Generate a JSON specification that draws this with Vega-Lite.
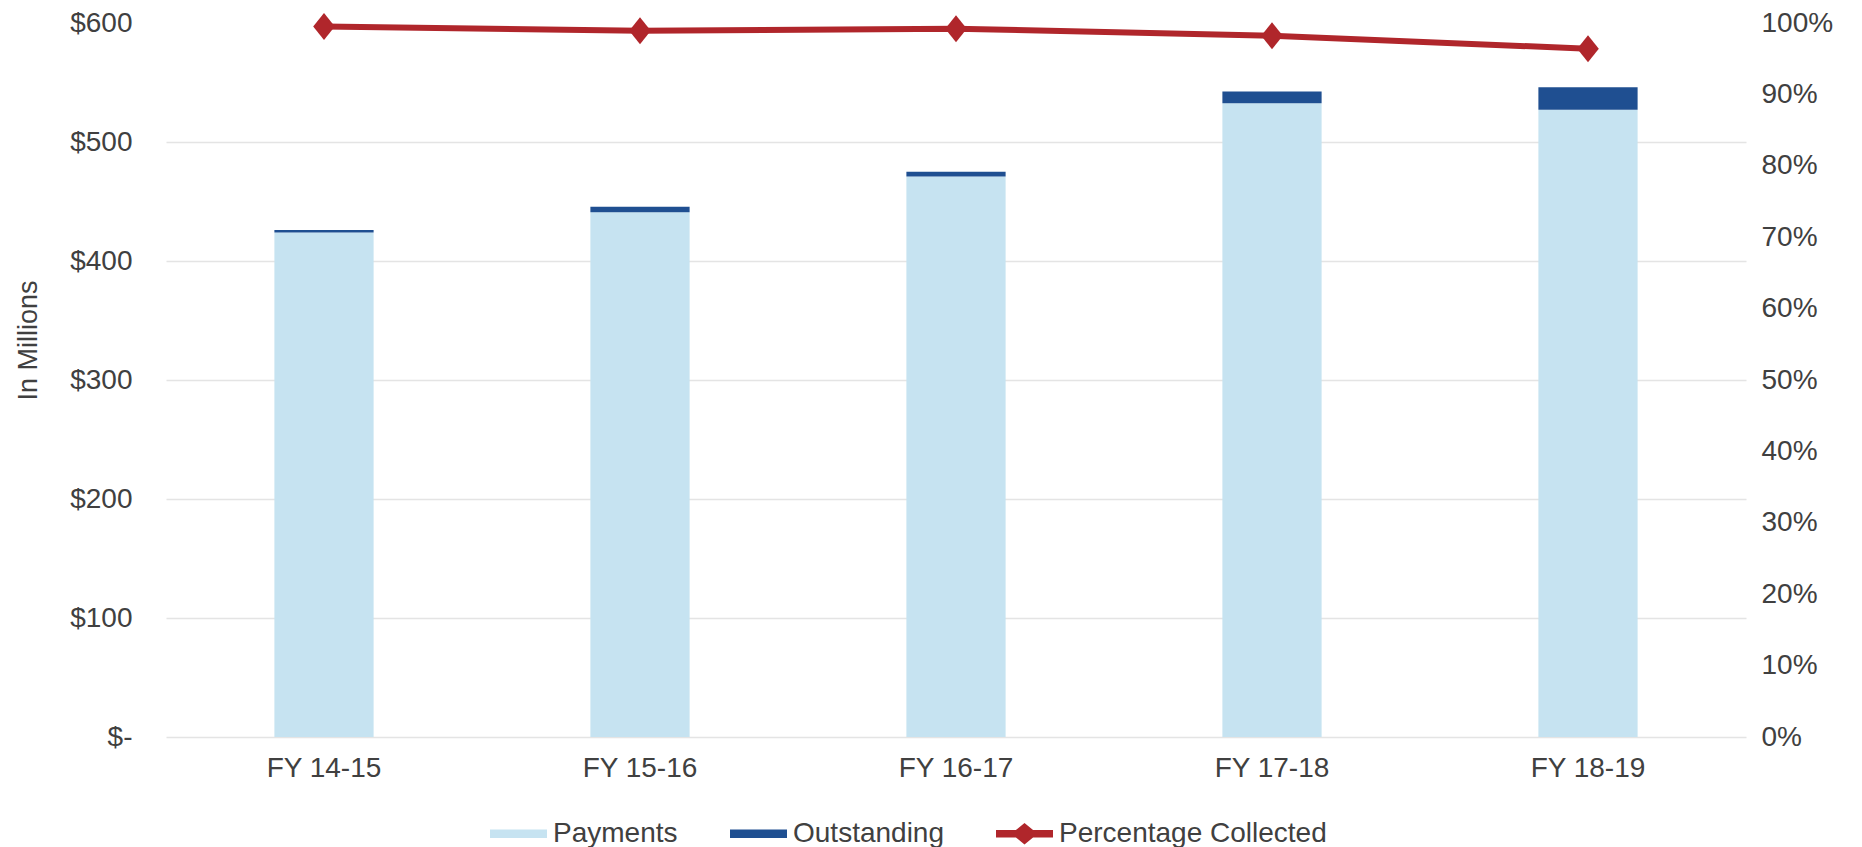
{
  "$schema": "https://vega.github.io/schema/vega-lite/v6.json",
  "width": 1580,
  "height": 714,
  "autosize": {"type": "none"},
  "padding": {"left": 166, "top": 23, "right": 116, "bottom": 110},
  "background": "white",
  "config": {
    "font": "Liberation Sans",
    "view": {"stroke": null},
    "axis": {
      "domain": false,
      "ticks": false,
      "labelFont": "Liberation Sans",
      "labelFontSize": 28,
      "labelColor": "#404040",
      "titleFont": "Liberation Sans",
      "titleColor": "#404040",
      "titleFontWeight": "normal",
      "gridColor": "#e4e4e4",
      "gridWidth": 1.5
    }
  },
  "datasets": {
    "bars": [
      {"year": "FY 14-15", "series": "Payments", "value": 424},
      {"year": "FY 14-15", "series": "Outstanding", "value": 2},
      {"year": "FY 15-16", "series": "Payments", "value": 441},
      {"year": "FY 15-16", "series": "Outstanding", "value": 4.5},
      {"year": "FY 16-17", "series": "Payments", "value": 471},
      {"year": "FY 16-17", "series": "Outstanding", "value": 4},
      {"year": "FY 17-18", "series": "Payments", "value": 532.5},
      {"year": "FY 17-18", "series": "Outstanding", "value": 10},
      {"year": "FY 18-19", "series": "Payments", "value": 527},
      {"year": "FY 18-19", "series": "Outstanding", "value": 19}
    ],
    "pct": [
      {"year": "FY 14-15", "series": "Percentage Collected", "pct": 0.995},
      {"year": "FY 15-16", "series": "Percentage Collected", "pct": 0.989},
      {"year": "FY 16-17", "series": "Percentage Collected", "pct": 0.992},
      {"year": "FY 17-18", "series": "Percentage Collected", "pct": 0.982},
      {"year": "FY 18-19", "series": "Percentage Collected", "pct": 0.964}
    ]
  },
  "layer": [
    {
      "data": {"name": "bars"},
      "mark": {"type": "bar"},
      "encoding": {
        "x": {
          "field": "year",
          "type": "nominal",
          "sort": null,
          "scale": {"paddingInner": 0.686, "paddingOuter": 0.343},
          "axis": {"title": null, "labelAngle": 0, "labelPadding": 17, "grid": false}
        },
        "y": {
          "field": "value",
          "type": "quantitative",
          "stack": "zero",
          "scale": {"domain": [0, 600], "nice": false},
          "axis": {
            "title": "In Millions",
            "titleFontSize": 27,
            "titleAngle": -90,
            "titleX": -138,
            "titleY": 317,
            "titleAlign": "center",
            "titleBaseline": "middle",
            "values": [0, 100, 200, 300, 400, 500, 600],
            "labelPadding": 34,
            "labelExpr": "datum.value === 0 ? '$-' : '$' + datum.value",
            "grid": true,
            "gridOpacity": {"condition": {"test": "datum.value === 600", "value": 0}, "value": 1}
          }
        },
        "color": {
          "field": "series",
          "type": "nominal",
          "scale": {
            "domain": ["Payments", "Outstanding", "Percentage Collected"],
            "range": ["#c6e3f1", "#1f4f91", "#b0262b"]
          },
          "legend": {
            "title": null,
            "orient": "none",
            "legendX": 324,
            "legendY": 782,
            "direction": "horizontal",
            "padding": 0,
            "labelFont": "Liberation Sans",
            "labelFontSize": 28,
            "labelColor": "#404040",
            "labelLimit": 0,
            "symbolSize": 3249,
            "columnPadding": 52,
            "labelOffset": 6,
            "symbolStrokeWidth": 0,
            "encode": {
              "symbols": {
                "update": {
                  "shape": {"signal": "datum.label === 'Percentage Collected' ? 'M-1,-0.13H-0.3L0,-0.38L0.3,-0.13H1V0.13H0.3L0,0.38L-0.3,0.13H-1Z' : 'M-1,-0.15H1V0.15H-1Z'"},
                  "fill": {"signal": "scale('color', datum.value)"},
                  "strokeWidth": {"value": 0},
                  "opacity": {"value": 1}
                }
              }
            }
          }
        },
        "order": {"field": "series", "sort": "descending"}
      }
    },
    {
      "data": {"name": "pct"},
      "mark": {
        "type": "line",
        "strokeWidth": 6,
        "point": {"shape": "M0,-1L0.8,0L0,1L-0.8,0Z", "size": 729, "filled": true, "opacity": 1}
      },
      "encoding": {
        "x": {"field": "year", "type": "nominal", "sort": null},
        "y": {
          "field": "pct",
          "type": "quantitative",
          "scale": {"domain": [0, 1], "nice": false},
          "axis": {
            "orient": "right",
            "title": null,
            "format": ".0%",
            "values": [0, 0.1, 0.2, 0.3, 0.4, 0.5, 0.6, 0.7, 0.8, 0.9, 1],
            "labelPadding": 15,
            "grid": false
          }
        },
        "color": {"field": "series", "type": "nominal"}
      }
    }
  ],
  "resolve": {"scale": {"y": "independent"}}
}
